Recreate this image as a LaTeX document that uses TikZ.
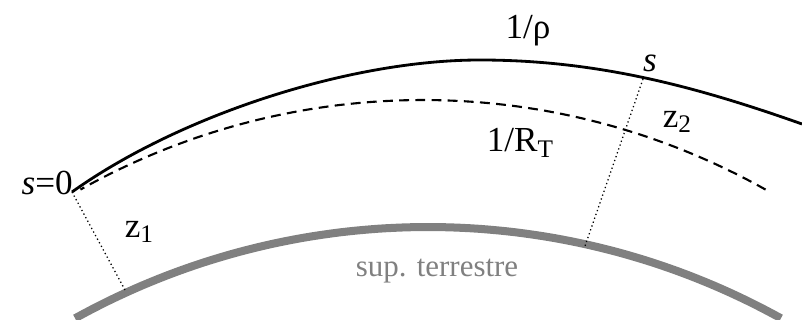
\documentclass[tikz,border=0pt]{standalone}
\usepackage{fontspec}
\setmainfont{Liberation Serif}
\newcommand{\lowidx}[1]{\raisebox{-0.35ex}{\fontsize{18}{18}\selectfont #1}}

\begin{document}
\begin{tikzpicture}[x=0.025cm,y=-0.025cm,
  lbl/.style={inner sep=0pt,font=\fontsize{25}{28}\selectfont}]
  \useasboundingbox (0,0) rectangle (802,320);
  \coordinate (s0) at (72,192);
  \coordinate (s1) at (643,79);
  \coordinate (g0) at (125,290);
  \coordinate (g1) at (585,246);
  % curves
  \draw[line width=2pt] (s0) .. controls (180,115) and (350,60) .. (480,60)
    .. controls (600,60) and (700,88) .. (802,124);
  \draw[line width=1.5pt,dash pattern=on 7pt off 4.5pt] plot[domain=60.7:119.3,samples=80] ({423+700*cos(\x)},{800-700*sin(\x)});
  \draw[line width=5.7pt,gray] plot[domain=61:119,samples=80] ({428+728*cos(\x)},{955-728*sin(\x)});
  \foreach \a/\b in {s0/g0,s1/g1}
    \draw[dotted,line width=0.9pt] (\a)--(\b);
  % labels
  \node[lbl,anchor=base east] (szero) at (73,195) {\textit{s}=0};
  \node[lbl] (zone) at (139,232) {z\lowidx{1}};
  \node[lbl] (rho) at (528,31) {1/ρ};
  \node[lbl] (send) at (650,63) {\textit{s}};
  \node[lbl] (ztwo) at (677,122) {z\lowidx{2}};
  \node[lbl] (rt) at (520,143) {1/R\lowidx{T}};
  \node[lbl,font=\fontsize{22}{26}\selectfont,text=gray] (sup) at (437,271) {sup. terrestre};
\end{tikzpicture}
\end{document}
